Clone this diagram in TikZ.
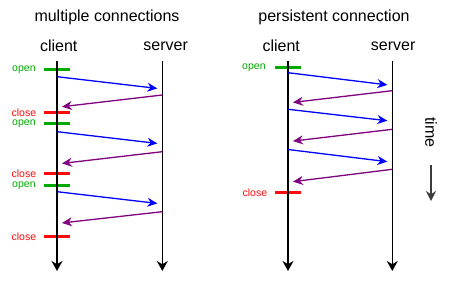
\documentclass[tikz,border=0pt]{standalone}
\usepackage{fontspec}
\setmainfont{Liberation Sans}
\usetikzlibrary{arrows.meta,positioning}

\definecolor{opengreen}{RGB}{0,170,0}
\definecolor{closered}{RGB}{255,10,10}
\definecolor{reqblue}{RGB}{0,0,255}
\definecolor{resppurple}{RGB}{128,0,128}
\definecolor{timegray}{RGB}{60,60,60}

\tikzset{
  title/.style={font=\fontsize{16}{19}\selectfont, inner sep=0pt},
  head/.style={font=\fontsize{16}{19}\selectfont, inner sep=0pt},
  life/.style={line width=1.5pt, -{Stealth[length=10pt,width=11pt]}},
  req/.style={draw=reqblue, line width=1.3pt, shorten >=5pt, -{Stealth[length=10pt,width=9pt]}},
  resp/.style={draw=resppurple, line width=1.3pt, shorten >=5pt, -{Stealth[length=10pt,width=9pt]}},
  opentick/.style={fill=opengreen, minimum width=26pt, minimum height=3pt, inner sep=0pt},
  closetick/.style={fill=closered, minimum width=26pt, minimum height=3pt, inner sep=0pt},
  openlbl/.style={text=opengreen, font=\fontsize{10.5}{12}\selectfont, inner sep=0pt},
  closelbl/.style={text=closered, font=\fontsize{10.5}{12}\selectfont, inner sep=0pt}
}

\begin{document}
\begin{tikzpicture}[x=1pt, y=-1pt]
\useasboundingbox (0,0) rectangle (458,299);

% --- Titles and headers ---
\node[title] (titleA) at (107,17) {multiple connections};
\node[title] (titleB) at (334,17) {persistent connection};
\node[head] (clientA) at (58.7,46) {client};
\node[head] (serverA) at (165.7,46) {server};
\node[head] (clientB) at (281.2,46) {client};
\node[head] (serverB) at (393.2,46) {server};

% --- Left: open / close marks ---
\node[opentick] (openA1) at (57,69.3) {};
\node[closetick] (closeA1) at (57,112.7) {};
\node[opentick] (openA2) at (57,124) {};
\node[closetick] (closeA2) at (57,174) {};
\node[opentick] (openA3) at (57,185.3) {};
\node[closetick] (closeA3) at (57,236.3) {};
\node[openlbl, left=8pt of openA1] (openAl1) {open};
\node[closelbl, left=7.5pt of closeA1] (closeAl1) {close};
\node[openlbl, left=8pt of openA2] (openAl2) {open};
\node[closelbl, left=7.5pt of closeA2] (closeAl2) {close};
\node[openlbl, left=8pt of openA3] (openAl3) {open};
\node[closelbl, left=7.5pt of closeA3] (closeAl3) {close};

% --- Right: open / close marks ---
\node[opentick] (openB1) at (288,67.7) {};
\node[closetick] (closeB1) at (288,192.7) {};
\node[openlbl, left=9pt of openB1] (openBl1) {open};
\node[closelbl, left=7.5pt of closeB1] (closeBl1) {close};

% --- Lifelines ---
\coordinate (clientAtop) at (57,61);
\coordinate (clientAbot) at (57,271);
\coordinate (serverAtop) at (162.3,61);
\coordinate (serverAbot) at (162.3,271);
\coordinate (clientBtop) at (288,61);
\coordinate (clientBbot) at (288,271);
\coordinate (serverBtop) at (392.3,61);
\coordinate (serverBbot) at (392.3,271);
\draw[life] (clientAtop) -- (clientAbot);
\draw[life] (serverAtop) -- (serverAbot);
\draw[life] (clientBtop) -- (clientBbot);
\draw[life] (serverBtop) -- (serverBbot);

% --- Left: requests and responses ---
\coordinate (reqA1) at (57,76.7);    \coordinate (gotA1) at (162.3,89);
\coordinate (resA1) at (162.3,95);   \coordinate (ansA1) at (57,107.3);
\coordinate (reqA2) at (57,131.7);   \coordinate (gotA2) at (162.3,144);
\coordinate (resA2) at (162.3,151.7);\coordinate (ansA2) at (57,164);
\coordinate (reqA3) at (57,191.7);   \coordinate (gotA3) at (162.3,204);
\coordinate (resA3) at (162.3,211.7);\coordinate (ansA3) at (57,223.5);
\draw[req] (reqA1) -- (gotA1);
\draw[resp] (resA1) -- (ansA1);
\draw[req] (reqA2) -- (gotA2);
\draw[resp] (resA2) -- (ansA2);
\draw[req] (reqA3) -- (gotA3);
\draw[resp] (resA3) -- (ansA3);

% --- Right: requests and responses ---
\coordinate (reqB1) at (288,72.7);   \coordinate (gotB1) at (392.3,85.5);
\coordinate (resB1) at (392.3,90.7); \coordinate (ansB1) at (288,103);
\coordinate (reqB2) at (288,109.3);  \coordinate (gotB2) at (392.3,121.3);
\coordinate (resB2) at (392.3,129.3);\coordinate (ansB2) at (288,141.7);
\coordinate (reqB3) at (288,149.5);  \coordinate (gotB3) at (392.3,162.3);
\coordinate (resB3) at (392.3,169.3);\coordinate (ansB3) at (288,182.3);
\draw[req] (reqB1) -- (gotB1);
\draw[resp] (resB1) -- (ansB1);
\draw[req] (reqB2) -- (gotB2);
\draw[resp] (resB2) -- (ansB2);
\draw[req] (reqB3) -- (gotB3);
\draw[resp] (resB3) -- (ansB3);

% --- Time axis ---
\node[head, rotate=-90] (timelbl) at (431,132.5) {time};
\coordinate (timetop) at (431,165);
\coordinate (timebot) at (431,201);
\draw[timegray, line width=1.3pt, -{Stealth[length=10pt,width=10pt]}] (timetop) -- (timebot);

\end{tikzpicture}
\end{document}
